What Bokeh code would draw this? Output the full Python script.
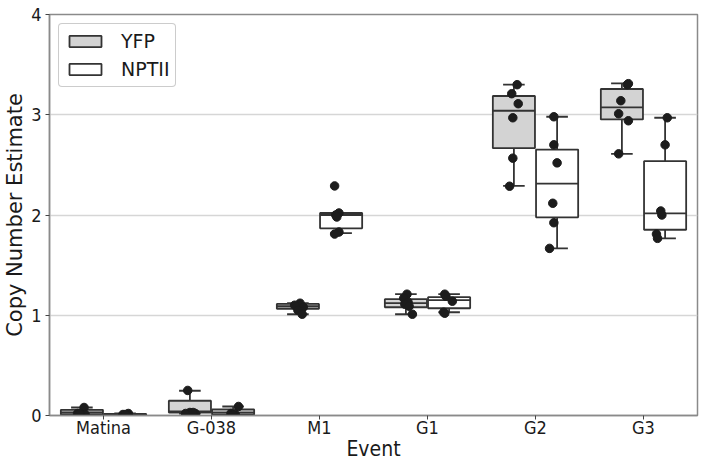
from bokeh.plotting import figure
from bokeh.models import FixedTicker, Legend, LegendItem, ColumnDataSource
from bokeh.embed import file_html
from bokeh.resources import INLINE

events = ["Matina", "G-038", "M1", "G1", "G2", "G3"]
groups = ["YFP", "NPTII"]

# box statistics: [Matina, G-038, M1, G1, G2, G3]
yfp_lo = [0.01, 0.02, 1.01, 1.01, 2.29, 2.61]
yfp_q1 = [0.01, 0.03, 1.065, 1.08, 2.667, 2.953]
yfp_med = [0.03, 0.04, 1.09, 1.12, 3.04, 3.073]
yfp_q3 = [0.057, 0.147, 1.113, 1.16, 3.187, 3.257]
yfp_hi = [0.08, 0.247, 1.12, 1.21, 3.30, 3.313]

npt_lo = [0.005, 0.01, 1.82, 1.03, 1.667, 1.767]
npt_q1 = [0.005, 0.01, 1.867, 1.07, 1.977, 1.853]
npt_med = [0.01, 0.03, 2.00, 1.15, 2.313, 2.017]
npt_q3 = [0.015, 0.06, 2.02, 1.18, 2.653, 2.537]
npt_hi = [0.02, 0.09, 2.02, 1.21, 2.98, 2.97]

# individual points
yfp_pts = [
    [0.08, 0.02, 0.01, 0.01, 0.02],
    [0.25, 0.03, 0.02, 0.02, 0.03],
    [1.12, 1.10, 1.08, 1.05, 1.01],
    [1.21, 1.17, 1.13, 1.11, 1.09, 1.01],
    [3.30, 3.21, 3.11, 2.97, 2.567, 2.287],
    [3.31, 3.30, 3.14, 3.01, 2.94, 2.61],
]
npt_pts = [
    [0.02, 0.01, 0.01, 0.01],
    [0.09, 0.02, 0.01, 0.01],
    [2.29, 2.02, 2.00, 1.98, 1.83, 1.81],
    [1.21, 1.19, 1.14, 1.03, 1.02],
    [2.98, 2.70, 2.52, 2.117, 1.923, 1.667],
    [2.97, 2.70, 2.04, 2.00, 1.81, 1.767],
]
# jitter offsets (category units) for the points
yfp_jit = [
    [0.02, -0.04, 0.0, 0.03, -0.02],
    [-0.02, 0.0, 0.05, -0.04, 0.03],
    [0.02, -0.03, 0.05, 0.0, 0.04],
    [0.01, -0.02, 0.02, -0.01, 0.03, 0.06],
    [0.03, -0.02, 0.04, -0.01, -0.01, -0.04],
    [0.06, 0.05, -0.01, -0.03, 0.06, -0.03],
]
npt_jit = [
    [0.03, -0.02, 0.02, 0.0],
    [0.05, -0.02, 0.02, 0.0],
    [-0.06, -0.02, -0.05, -0.04, -0.02, -0.06],
    [-0.04, -0.03, 0.03, -0.05, -0.04],
    [-0.03, -0.03, 0.0, -0.04, -0.03, -0.07],
    [0.02, 0.0, -0.04, -0.03, -0.08, -0.07],
]

BOXW = 0.39
EDGE = "#333333"
FONT = "DejaVu Sans Condensed"

p = figure(width=704, height=463, x_range=(-0.5, 5.5), y_range=(0, 4),
           output_backend="svg", toolbar_location=None,
           min_border_left=47, min_border_right=7, min_border_top=14, min_border_bottom=42)
p.xgrid.grid_line_color = None
p.ygrid.grid_line_color = "#d6d6d6"
p.ygrid.grid_line_width = 1.3
p.outline_line_color = "#8a8a8a"
p.outline_line_width = 1.5

renderers = {}
for g, (lo, q1, med, q3, hi, pts, jit, fill, off) in enumerate([
        (yfp_lo, yfp_q1, yfp_med, yfp_q3, yfp_hi, yfp_pts, yfp_jit, "#d3d3d3", -0.2),
        (npt_lo, npt_q1, npt_med, npt_q3, npt_hi, npt_pts, npt_jit, "#ffffff", 0.2)]):
    cx = [i + off for i in range(len(events))]
    src = ColumnDataSource(dict(
        cx=cx, left=[c - BOXW / 2 for c in cx], right=[c + BOXW / 2 for c in cx],
        capl=[c - 0.1 for c in cx], capr=[c + 0.1 for c in cx],
        lo=lo, q1=q1, med=med, q3=q3, hi=hi))
    p.segment(x0="cx", x1="cx", y0="q3", y1="hi", source=src, line_color=EDGE, line_width=1.8)
    p.segment(x0="cx", x1="cx", y0="lo", y1="q1", source=src, line_color=EDGE, line_width=1.8)
    p.segment(x0="capl", x1="capr", y0="hi", y1="hi", source=src, line_color=EDGE, line_width=1.8)
    p.segment(x0="capl", x1="capr", y0="lo", y1="lo", source=src, line_color=EDGE, line_width=1.8)
    r = p.quad(left="left", right="right", bottom="q1", top="q3", source=src,
               fill_color=fill, line_color=EDGE, line_width=1.8)
    p.segment(x0="left", x1="right", y0="med", y1="med", source=src, line_color=EDGE, line_width=1.8)
    renderers[groups[g]] = r
    xs, ys = [], []
    for i in range(len(events)):
        for v, j in zip(pts[i], jit[i]):
            xs.append(cx[i] + j)
            ys.append(v)
    p.scatter(xs, ys, size=8.5, fill_color="#1c1c1c", line_color="#1c1c1c")

p.xaxis.ticker = FixedTicker(ticks=list(range(len(events))))
p.xaxis.major_label_overrides = {i: e for i, e in enumerate(events)}
p.yaxis.ticker = FixedTicker(ticks=[0, 1, 2, 3, 4])
for ax in (p.xaxis[0], p.yaxis[0]):
    ax.axis_line_color = "#8a8a8a"
    ax.axis_line_width = 1.5
    ax.major_tick_line_color = "#444444"
    ax.major_tick_in = 0
    ax.major_tick_out = 4
    ax.minor_tick_line_color = None
    ax.major_label_text_font = FONT
    ax.major_label_text_font_size = "18px"
    ax.major_label_text_color = "#1a1a1a"
    ax.axis_label_text_font = FONT
    ax.axis_label_text_font_size = "21px"
    ax.axis_label_text_font_style = "normal"
    ax.axis_label_text_color = "#1a1a1a"
p.xaxis.axis_label = "Event"
p.yaxis.axis_label = "Copy Number Estimate"
p.yaxis.axis_label_text_font = "DejaVu Sans"
p.xaxis.major_label_standoff = -3
p.xaxis.axis_label_standoff = -4
p.yaxis.major_label_standoff = 4
p.yaxis.axis_label_standoff = 1

legend = Legend(items=[LegendItem(label=g, renderers=[renderers[g]]) for g in groups],
                location="top_left")
legend.margin = 9
legend.padding = 6
legend.spacing = 6
legend.glyph_width = 40
legend.glyph_height = 14
legend.label_standoff = 16
legend.label_text_font = "DejaVu Sans"
legend.label_text_font_size = "19px"
legend.label_text_color = "#1a1a1a"
legend.border_line_color = "#999999"
legend.border_line_width = 1.2
legend.border_radius = 4
p.add_layout(legend)

open("out.html", "w").write(file_html(p, INLINE))
